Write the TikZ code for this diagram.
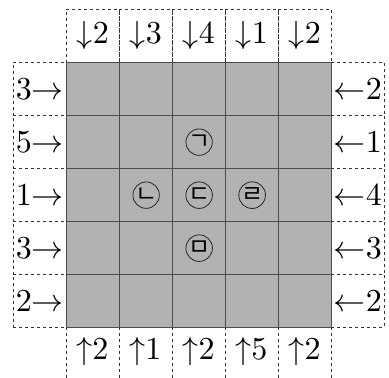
\documentclass[tikz,border=0pt]{standalone}
\usepackage{fontspec}
\newfontfamily\kr{Noto Sans CJK KR}
\tikzset{
  cell/.style={draw=black!70, line width=1.3pt, fill=black!30, minimum size=53pt, inner sep=0pt, anchor=north west},
  cluebox/.style={draw=black!80, dash pattern=on 3pt off 3pt, line width=0.8pt, minimum size=53pt, inner sep=0pt, anchor=north west},
  cluetext/.style={font=\normalsize, scale=3.2, inner sep=0pt},
  jamo/.style={circle, draw=black!85, line width=0.8pt, minimum size=26pt, inner sep=0pt, font=\kr\fontsize{24}{24}\selectfont}
}
\begin{document}
\begin{tikzpicture}[x=1pt, y=-1pt]
\useasboundingbox (0,0) rectangle (389,378);
% clue boxes
\foreach \i in {0,...,4}
  \node[cluebox] (t\i) at (66+53*\i, 9) {};
\foreach \j in {0,...,4}
  \node[cluebox] (l\j) at (13, 62+53*\j) {};
\foreach \j in {0,...,4}
  \node[cluebox] (r\j) at (331, 62+53*\j) {};
% bottom open boxes
\foreach \i in {0,...,5}
  \coordinate (b\i) at (66+53*\i, 327);
\foreach \i in {0,...,5}
  \coordinate (e\i) at (66+53*\i, 380);
\foreach \i in {0,...,5}
  \draw[draw=black!80, dash pattern=on 3pt off 3pt, line width=0.8pt] (b\i) -- (e\i);
% grid
\foreach \i in {0,...,4}
  \foreach \j in {0,...,4}
    \node[cell] (c\i\j) at (66+53*\i, 62+53*\j) {};
% clue texts
\foreach \v [count=\i from 0] in {2,3,4,1,2}
  \node[cluetext] at (t\i) {${\downarrow}\v$};
\foreach \v [count=\j from 0] in {3,5,1,3,2}
  \node[cluetext] at (l\j) {$\v{\rightarrow}$};
\foreach \v [count=\j from 0] in {2,1,4,3,2}
  \node[cluetext] at (r\j) {${\leftarrow}\v$};
\foreach \v [count=\i from 0] in {2,1,2,5,2}
  \node[cluetext] (u\i) at (92.5+53*\i, 351) {${\uparrow}\v$};
% circled letters
\node[jamo] (g) at (c21.center) {ㄱ};
\node[jamo] (n) at (c12.center) {ㄴ};
\node[jamo] (d) at (c22.center) {ㄷ};
\node[jamo] (r) at (c32.center) {ㄹ};
\node[jamo] (m) at (c23.center) {ㅁ};
\end{tikzpicture}
\end{document}
